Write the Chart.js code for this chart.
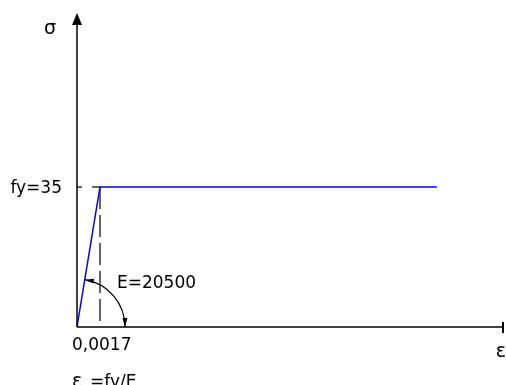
<!DOCTYPE html>
<html>
<head>
<meta charset="utf-8">
<script src="https://cdn.jsdelivr.net/npm/chart.js@4/dist/chart.umd.min.js"></script>
<style>
  html, body { margin: 0; padding: 0; background: #ffffff; }
  #wrap { width: 506px; height: 385px; }
</style>
</head>
<body>
<div id="wrap"><canvas id="c" width="506" height="385"></canvas></div>
<script>
// Elastic - perfectly plastic steel law (stress vs strain)
const strain = [0, 0.0017, 0.0266];   // ε
const stress = [0, 35, 35];           // σ
const fy = 35;                        // yield stress
const E = 20500;                      // elastic modulus
const epsY = 0.0017;                  // yield strain = fy / E
const xMax = 0.03164;
const yMax = 78.5;

const labelFont = '17px "DejaVu Sans", sans-serif';

function arrowHead(ctx, tipX, tipY, dirX, dirY, len, half) {
  const n = Math.hypot(dirX, dirY);
  const ux = dirX / n, uy = dirY / n;
  const bx = tipX - ux * len, by = tipY - uy * len;
  ctx.beginPath();
  ctx.moveTo(tipX, tipY);
  ctx.lineTo(bx - uy * half, by + ux * half);
  ctx.lineTo(bx + uy * half, by - ux * half);
  ctx.closePath();
  ctx.fill();
}

const drawing = {
  id: 'drawing',
  beforeDatasetsDraw(chart) {
    const { ctx, scales: { x, y } } = chart;
    const x0 = x.getPixelForValue(0), y0 = y.getPixelForValue(0);
    const xy = x.getPixelForValue(epsY), yy = y.getPixelForValue(fy);
    ctx.save();
    ctx.strokeStyle = '#333';
    ctx.lineWidth = 1.5;
    // vertical guide at the yield strain
    ctx.setLineDash([22, 6]);
    ctx.beginPath();
    ctx.moveTo(xy, yy);
    ctx.lineTo(xy, y0);
    ctx.stroke();
    // horizontal guide at the yield stress
    ctx.setLineDash([8, 10]);
    ctx.beginPath();
    ctx.moveTo(xy, yy);
    ctx.lineTo(x0, yy);
    ctx.stroke();
    ctx.restore();
  },
  afterDatasetsDraw(chart) {
    const { ctx, scales: { x, y } } = chart;
    const x0 = x.getPixelForValue(0), y0 = y.getPixelForValue(0);
    const xy = x.getPixelForValue(epsY), yy = y.getPixelForValue(fy);
    const xEnd = x.getPixelForValue(xMax), yTop = y.getPixelForValue(yMax);

    ctx.save();
    ctx.strokeStyle = '#000';
    ctx.fillStyle = '#000';
    ctx.lineWidth = 1.5;

    // σ axis with arrow
    ctx.beginPath();
    ctx.moveTo(x0, y0);
    ctx.lineTo(x0, yTop + 10);
    ctx.stroke();
    arrowHead(ctx, x0, yTop, 0, -1, 12, 5);

    // ε axis with end tick
    ctx.beginPath();
    ctx.moveTo(x0, y0);
    ctx.lineTo(xEnd - 1, y0);
    ctx.stroke();
    ctx.lineWidth = 2;
    ctx.beginPath();
    ctx.moveTo(xEnd - 2, y0 - 5);
    ctx.lineTo(xEnd - 2, y0 + 6);
    ctx.stroke();

    // modulus arc between the elastic branch and the strain axis
    const r = 48;
    const a1 = Math.atan2(yy - y0, xy - x0);
    ctx.lineWidth = 1.2;
    ctx.beginPath();
    ctx.arc(x0, y0, r, a1, 0);
    ctx.stroke();
    arrowHead(ctx, x0 + r * Math.cos(a1), y0 + r * Math.sin(a1),
              Math.sin(a1), -Math.cos(a1), 9, 2.5);
    arrowHead(ctx, x0 + r, y0, 0, 1, 9, 2.5);

    // labels
    ctx.font = labelFont;
    ctx.textBaseline = 'alphabetic';
    ctx.textAlign = 'right';
    ctx.fillText('fy=' + fy, x0 - 15, yy + 6);
    ctx.textAlign = 'left';
    ctx.fillText('E=' + E, x0 + 40, y0 - 39);
    ctx.fillText(epsY.toString().replace('.', ','), x0 - 5, y0 + 23);

    ctx.font = '19px "DejaVu Sans", sans-serif';
    ctx.fillText('σ', x0 - 33, yTop + 21);
    ctx.textAlign = 'right';
    ctx.fillText('ε', xEnd + 1, y0 + 30);

    // yield strain formula
    ctx.textAlign = 'left';
    ctx.font = '19px "DejaVu Sans", sans-serif';
    ctx.fillText('ε', x0 - 5, y0 + 60);
    ctx.font = '11px "DejaVu Sans", sans-serif';
    ctx.fillText('y', x0 + 5, y0 + 64);
    ctx.font = labelFont;
    ctx.fillText('=fy/E', x0 + 13, y0 + 60);
    ctx.restore();
  }
};

new Chart(document.getElementById('c'), {
  type: 'scatter',
  data: {
    datasets: [{
      data: strain.map((e, i) => ({ x: e, y: stress[i] })),
      showLine: true,
      borderColor: '#0000ff',
      borderWidth: 1.5,
      pointRadius: 0,
      tension: 0,
      clip: false
    }]
  },
  options: {
    responsive: false,
    animation: false,
    events: [],
    layout: { padding: { left: 77, right: 1, top: 13, bottom: 58 } },
    plugins: { legend: { display: false }, tooltip: { enabled: false } },
    scales: {
      x: { type: 'linear', min: 0, max: xMax, display: false },
      y: { type: 'linear', min: 0, max: yMax, display: false }
    }
  },
  plugins: [drawing]
});
</script>
</body>
</html>
